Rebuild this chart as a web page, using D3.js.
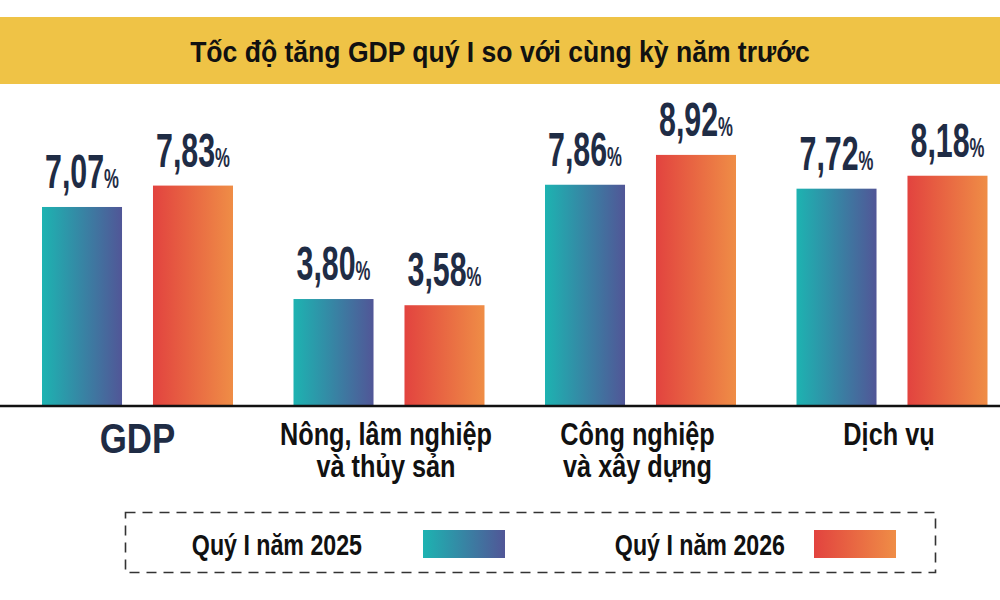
<!DOCTYPE html>
<html>
<head>
<meta charset="utf-8">
<script src="https://cdn.jsdelivr.net/npm/d3@7"></script>
<style>
  body { margin: 0; background: #fff; }
  svg { display: block; }
  .narrow { font-family: "Liberation Sans Narrow", "Arial Narrow", "Liberation Sans", Arial, sans-serif; font-weight: bold; }
</style>
</head>
<body>
<div id="chart"></div>
<script>
// data
var title = "Tốc độ tăng GDP quý I so với cùng kỳ năm trước";
var categories = ["GDP", "Nông, lâm nghiệp|và thủy sản", "Công nghiệp|và xây dựng", "Dịch vụ"];
var seriesNames = ["Quý I năm 2025", "Quý I năm 2026"];
var values2025 = [7.07, 3.80, 7.86, 7.72];
var values2026 = [7.83, 3.58, 8.92, 8.18];

var W = 1000, H = 600;
var baseY = 406;

var svg = d3.select("#chart").append("svg")
    .attr("width", W)
    .attr("height", H);

// squeeze text horizontally (no condensed font available)
function place(x, y, sx) {
  return "translate(" + x + "," + y + ") scale(" + sx + ",1)";
}

// gradients
var defs = svg.append("defs");
var gradStops = [["#1db3b1", "#515697"], ["#e2433f", "#ef8d46"]];
gradStops.forEach(function (s, i) {
  var g = defs.append("linearGradient")
      .attr("id", "grad" + i)
      .attr("x1", 0).attr("x2", 1).attr("y1", 0).attr("y2", 0);
  g.append("stop").attr("offset", "0%").attr("stop-color", s[0]);
  g.append("stop").attr("offset", "100%").attr("stop-color", s[1]);
});

// title band
svg.append("rect")
    .attr("x", 0).attr("y", 17)
    .attr("width", W).attr("height", 67)
    .attr("fill", "#efc346");
svg.append("text")
    .attr("class", "narrow")
    .attr("transform", place(W / 2, 62, 0.885))
    .attr("text-anchor", "middle")
    .attr("font-size", 30)
    .attr("fill", "#111")
    .text(title);

// scales
var x0 = d3.scalePoint()
    .domain(categories)
    .range([137.5, 892]);

var x1 = d3.scaleBand()
    .domain([0, 1])
    .range([-95.5, 95.5])
    .paddingInner(0.279);

var y = d3.scaleLinear()
    .domain([0, 10])
    .range([baseY, baseY - 281.5]);

var rows = [];
categories.forEach(function (c, i) {
  rows.push({cat: c, s: 0, v: values2025[i]});
  rows.push({cat: c, s: 1, v: values2026[i]});
});

// bars
svg.append("g").selectAll("rect")
  .data(rows)
  .join("rect")
    .attr("x", function (d) { return x0(d.cat) + x1(d.s); })
    .attr("y", function (d) { return y(d.v); })
    .attr("width", x1.bandwidth())
    .attr("height", function (d) { return baseY - y(d.v); })
    .attr("fill", function (d) { return "url(#grad" + d.s + ")"; });

// value labels
var fmt = d3.format(".2f");
var labels = svg.append("g").selectAll("text")
  .data(rows)
  .join("text")
    .attr("class", "narrow")
    .attr("fill", "#1f2c45")
    .attr("text-anchor", "middle")
    .attr("transform", function (d) {
      var cx = x0(d.cat) + x1(d.s) + x1.bandwidth() / 2;
      return place(cx, y(d.v) - 19, 0.62);
    });
labels.append("tspan")
    .attr("font-size", 49)
    .text(function (d) { return fmt(d.v).replace(".", ","); });
labels.append("tspan")
    .attr("font-size", 27)
    .text("%");

// baseline
svg.append("line")
    .attr("x1", 0).attr("x2", W)
    .attr("y1", baseY).attr("y2", baseY)
    .attr("stroke", "#111")
    .attr("stroke-width", 2.5);

// category labels
var catG = svg.append("g").selectAll("text")
  .data(categories)
  .join("text")
    .attr("class", "narrow")
    .attr("text-anchor", "middle")
    .attr("transform", function (d, i) {
      return i === 0 ? place(x0(d), 453, 0.83) : place(x0(d) - 3, 445, 0.79);
    })
    .attr("fill", function (d, i) { return i === 0 ? "#1f2c45" : "#111"; })
    .attr("font-size", function (d, i) { return i === 0 ? 42 : 32; });
catG.each(function (d) {
  var t = d3.select(this);
  d.split("|").forEach(function (l, j) {
    t.append("tspan")
      .attr("x", 0)
      .attr("y", j * 32)
      .text(l);
  });
});

// legend
svg.append("rect")
    .attr("x", 125.5).attr("y", 512.5)
    .attr("width", 810).attr("height", 60)
    .attr("fill", "none")
    .attr("stroke", "#333")
    .attr("stroke-width", 1.6)
    .attr("stroke-dasharray", "10,7");

var legendPos = [{tx: 362, sx: 423}, {tx: 785, sx: 814}];
var leg = svg.append("g").selectAll("g")
  .data(seriesNames)
  .join("g");
leg.append("text")
    .attr("class", "narrow")
    .attr("transform", function (d, i) { return place(legendPos[i].tx, 555, 0.8); })
    .attr("text-anchor", "end")
    .attr("font-size", 29)
    .attr("fill", "#111")
    .text(function (d) { return d; });
leg.append("rect")
    .attr("x", function (d, i) { return legendPos[i].sx; })
    .attr("y", 530)
    .attr("width", 82)
    .attr("height", 28)
    .attr("fill", function (d, i) { return "url(#grad" + i + ")"; });
</script>
</body>
</html>
